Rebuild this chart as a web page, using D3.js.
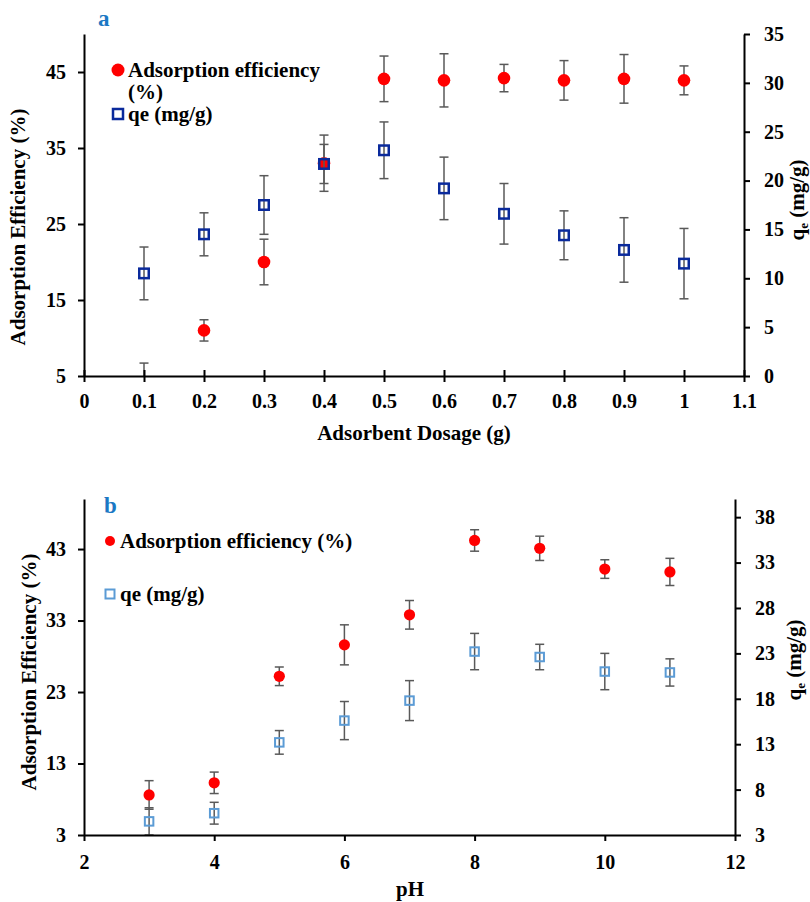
<!DOCTYPE html>
<html>
<head>
<meta charset="utf-8">
<script src="https://cdn.jsdelivr.net/npm/d3@7"></script>
<style>
  body { margin: 0; background: #fff; }
  text { font-family: "Liberation Serif", "Times New Roman", serif; font-weight: bold; }
</style>
</head>
<body>
<div id="container"></div>
<script>
// panel a : adsorbent dosage
var dosage = [0.1, 0.2, 0.3, 0.4, 0.5, 0.6, 0.7, 0.8, 0.9, 1.0]
var effA = [3.5, 11.0, 20.0, 33.0, 44.1, 43.9, 44.2, 43.9, 44.1, 43.9]
var effAErr = [3.2, 1.4, 3.0, 3.7, 3.0, 3.5, 1.8, 2.6, 3.2, 1.9]
var qeA = [10.5, 14.5, 17.5, 21.7, 23.1, 19.2, 16.6, 14.4, 12.9, 11.5]
var qeAErr = [2.7, 2.2, 3.0, 2.0, 2.9, 3.2, 3.1, 2.5, 3.3, 3.6]
var xTicksA = [0, 0.1, 0.2, 0.3, 0.4, 0.5, 0.6, 0.7, 0.8, 0.9, 1, 1.1]
var leftTicksA = [5, 15, 25, 35, 45]
var rightTicksA = [0, 5, 10, 15, 20, 25, 30, 35]

// panel b : pH
var ph = [3, 4, 5, 6, 7, 8, 9, 10, 11]
var effB = [8.6, 10.3, 25.2, 29.6, 33.8, 44.2, 43.1, 40.2, 39.8]
var effBErr = [2.0, 1.5, 1.3, 2.8, 2.0, 1.5, 1.7, 1.3, 1.9]
var qeB = [4.5, 5.4, 13.2, 15.6, 17.8, 23.2, 22.6, 21.0, 20.9]
var qeBErr = [1.5, 1.2, 1.3, 2.1, 2.2, 2.0, 1.4, 2.0, 1.5]
var xTicksB = [2, 4, 6, 8, 10, 12]
var leftTicksB = [3, 13, 23, 33, 43]
var rightTicksB = [3, 8, 13, 18, 23, 28, 33, 38]

var WIDTH = 810
var HEIGHT = 902

var svg = d3.select('div#container').append('svg')
  .attr('width', WIDTH)
  .attr('height', HEIGHT)

function drawPanel(cfg) {
  var x = d3.scaleLinear().domain(cfg.xDomain).range([cfg.left, cfg.right])
  var yL = d3.scaleLinear().domain(cfg.lDomain).range([cfg.bottom, cfg.top])
  var yR = d3.scaleLinear().domain(cfg.rDomain).range([cfg.bottom, cfg.top])

  var g = svg.append('g')

  svg.append('clipPath').attr('id', cfg.id + 'clip')
    .append('rect')
    .attr('x', cfg.left).attr('y', cfg.top - 10)
    .attr('width', cfg.right - cfg.left).attr('height', cfg.bottom - cfg.top + 10)

  var plot = g.append('g').attr('clip-path', 'url(#' + cfg.id + 'clip)')

  function errors(xs, vs, es, y) {
    var eb = plot.append('g').attr('stroke', '#595959').attr('stroke-width', 1.5)
    xs.forEach(function (d, i) {
      var px = x(d)
      var t = y(vs[i] + es[i]), b = y(vs[i] - es[i])
      eb.append('line').attr('x1', px).attr('x2', px).attr('y1', t).attr('y2', b)
      eb.append('line').attr('x1', px - 4.5).attr('x2', px + 4.5).attr('y1', t).attr('y2', t)
      eb.append('line').attr('x1', px - 4.5).attr('x2', px + 4.5).attr('y1', b).attr('y2', b)
    })
  }

  errors(cfg.xs, cfg.eff, cfg.effErr, yL)
  plot.selectAll('circle.eff').data(cfg.xs).enter().append('circle')
    .attr('cx', function (d) { return x(d) })
    .attr('cy', function (d, i) { return yL(cfg.eff[i]) })
    .attr('r', cfg.r)
    .attr('fill', '#ff0000')

  errors(cfg.xs, cfg.qe, cfg.qeErr, yR)
  plot.selectAll('rect.qe').data(cfg.xs).enter().append('rect')
    .attr('x', function (d) { return x(d) - cfg.sq / 2 })
    .attr('y', function (d, i) { return yR(cfg.qe[i]) - cfg.sq / 2 })
    .attr('width', cfg.sq).attr('height', cfg.sq)
    .attr('fill', 'none')
    .attr('stroke', cfg.qeColor)
    .attr('stroke-width', cfg.sqStroke)

  // axes
  var xAxis = g.append('g')
    .attr('transform', 'translate(0,' + cfg.bottom + ')')
    .call(d3.axisBottom(x).tickValues(cfg.xTicks).tickSize(6).tickSizeOuter(0)
      .tickPadding(cfg.xPad).tickFormat(d3.format('')))
  if (cfg.crossTicks) xAxis.selectAll('.tick line').attr('y1', -6)

  var lAxis = g.append('g')
    .attr('transform', 'translate(' + cfg.left + ',0)')
    .call(d3.axisLeft(yL).tickValues(cfg.lTicks).tickSize(6).tickSizeOuter(0).tickPadding(12))

  var rAxis = g.append('g')
    .attr('transform', 'translate(' + cfg.right + ',0)')
    .call(d3.axisRight(yR).tickValues(cfg.rTicks).tickSize(6).tickSizeOuter(0).tickPadding(cfg.rPad))

  ;[xAxis, lAxis, rAxis].forEach(function (a) {
    a.select('.domain').attr('stroke', '#000').attr('stroke-width', 2)
    a.selectAll('.tick line').attr('stroke', '#000').attr('stroke-width', 2)
    a.selectAll('text').attr('fill', '#000').attr('font-size', 20)
      .attr('font-family', '"Liberation Serif", serif').attr('font-weight', 'bold')
  })

  // titles
  g.append('text').attr('x', cfg.xTitle[0]).attr('y', cfg.xTitle[1])
    .attr('text-anchor', 'middle').attr('font-size', 21).text(cfg.xLabel)

  g.append('text')
    .attr('transform', 'translate(' + cfg.lTitle[0] + ',' + cfg.lTitle[1] + ') rotate(-90)')
    .attr('text-anchor', 'middle').attr('font-size', 21).text('Adsorption Efficiency (%)')

  // right title reads bottom to top
  var rt = g.append('text')
    .attr('transform', 'translate(' + cfg.rTitle[0] + ',' + cfg.rTitle[1] + ') rotate(-90)')
    .attr('text-anchor', 'middle').attr('font-size', 21)
  rt.append('tspan').text('q')
  rt.append('tspan').attr('font-size', 13).attr('dy', 4).text('e')
  rt.append('tspan').attr('dy', -4).text(' (mg/g)')

  // panel letter
  g.append('text').attr('x', cfg.letter[0]).attr('y', cfg.letter[1])
    .attr('font-family', '"Liberation Sans", Arial, sans-serif')
    .attr('font-size', 23).attr('fill', '#1b78c4').text(cfg.id)

  // legend
  var lg = g.append('g')
  lg.append('circle').attr('cx', cfg.leg[0]).attr('cy', cfg.leg[1]).attr('r', cfg.legR).attr('fill', '#ff0000')
  var lt = lg.append('text').attr('x', cfg.leg[0] + 10).attr('y', cfg.leg[1] + 7).attr('font-size', 21)
  if (cfg.wrapLegend) {
    lt.append('tspan').text('Adsorption efficiency')
    lt.append('tspan').attr('x', cfg.leg[0] + 10).attr('dy', 22).text('(%)')
  } else {
    lt.text('Adsorption efficiency (%)')
  }
  lg.append('rect')
    .attr('x', cfg.leg[0] - cfg.legSq / 2).attr('y', cfg.leg2 - cfg.legSq / 2)
    .attr('width', cfg.legSq).attr('height', cfg.legSq)
    .attr('fill', 'none').attr('stroke', cfg.qeColor).attr('stroke-width', cfg.sqStroke)
  lg.append('text').attr('x', cfg.leg[0] + 10).attr('y', cfg.leg2 + 7).attr('font-size', 21).text('qe (mg/g)')
}

drawPanel({
  id: 'a',
  left: 84, right: 744, top: 34, bottom: 376,
  xDomain: [0, 1.1], lDomain: [5, 50], rDomain: [0, 35],
  xs: dosage, eff: effA, effErr: effAErr, qe: qeA, qeErr: qeAErr,
  xTicks: xTicksA, lTicks: leftTicksA, rTicks: rightTicksA,
  crossTicks: true, xPad: 12, rPad: 14,
  r: 6.3, sq: 9.5, sqStroke: 2.5, qeColor: '#0a2a9c',
  xLabel: 'Adsorbent Dosage (g)', xTitle: [414, 440],
  lTitle: [25, 227], rTitle: [804, 200],
  letter: [98, 26],
  leg: [118, 70], leg2: 114, legR: 6.5, legSq: 10, wrapLegend: true
})

drawPanel({
  id: 'b',
  left: 84, right: 735, top: 499, bottom: 835,
  xDomain: [2, 12], lDomain: [3, 50], rDomain: [3, 40],
  xs: ph, eff: effB, effErr: effBErr, qe: qeB, qeErr: qeBErr,
  xTicks: xTicksB, lTicks: leftTicksB, rTicks: rightTicksB,
  crossTicks: false, xPad: 14, rPad: 14,
  r: 5.6, sq: 8.5, sqStroke: 2, qeColor: '#5b9bd5',
  xLabel: 'pH', xTitle: [410, 896],
  lTitle: [36, 672], rTitle: [801, 660],
  letter: [104, 513],
  leg: [110, 541], leg2: 594, legR: 5, legSq: 9, wrapLegend: false
})
</script>
</body>
</html>
